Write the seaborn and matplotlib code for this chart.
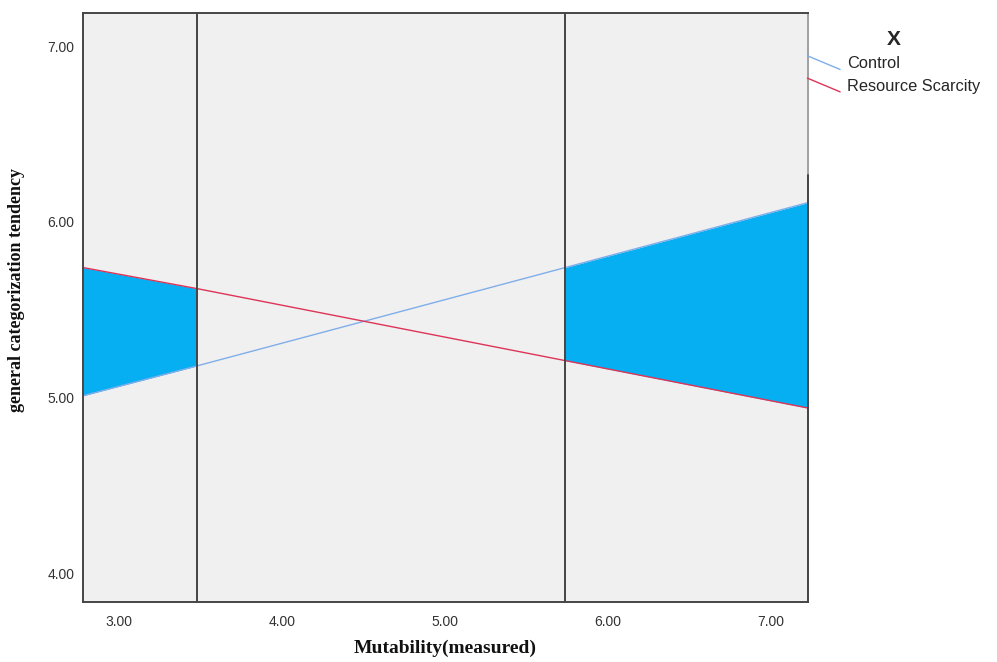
import matplotlib
matplotlib.use("Agg")

import numpy as np
import pandas as pd
import matplotlib.pyplot as plt
from matplotlib.lines import Line2D
from matplotlib.legend_handler import HandlerBase
import seaborn as sns


# values
mutability = [2.78, 3.48, 5.74, 7.23]
control = [5.01, 5.18, 5.74, 6.11]
scarcity = [5.74, 5.62, 5.21, 4.94]
jn_points = [3.48, 5.74]
groups = ["Control", "Resource Scarcity"]
x_ticks = [3.0, 4.0, 5.0, 6.0, 7.0]
y_ticks = [4.0, 5.0, 6.0, 7.0]
x_range = (2.78, 7.23)
y_range = (3.835, 7.19)
dark_edge_top = 6.27

colors = {"Control": "#7FAEEA", "Resource Scarcity": "#DE3457"}
fill_color = "#06AFF2"
frame_color = "#454545"

sns.set_theme(style="white")
plt.rcParams["font.family"] = ["Liberation Sans", "DejaVu Sans"]


class DiagonalHandler(HandlerBase):
    def create_artists(self, legend, orig_handle, xdescent, ydescent,
                       width, height, fontsize, trans):
        line = Line2D([-xdescent, -xdescent + width],
                      [-ydescent + height * 1.1, -ydescent - height * 0.1],
                      color=orig_handle.get_color(), lw=1.0, transform=trans)
        return [line]


df = pd.DataFrame({
    "Mutability": mutability * 2,
    "value": control + scarcity,
    "X": [groups[0]] * len(mutability) + [groups[1]] * len(mutability),
})

fig = plt.figure(figsize=(9.97, 6.62), dpi=100)
ax = fig.add_axes([0.0833, 0.0906, 0.7271, 0.8898])
ax.set_facecolor("#F0F0F0")

x = np.array(mutability)
lo = np.minimum(control, scarcity)
hi = np.maximum(control, scarcity)
ax.fill_between(x, lo, hi, where=x <= jn_points[0], color=fill_color, lw=0, zorder=1)
ax.fill_between(x, lo, hi, where=x >= jn_points[1], color=fill_color, lw=0, zorder=1)

sns.lineplot(data=df, x="Mutability", y="value", hue="X", palette=colors,
             linewidth=1.0, legend=False, ax=ax, zorder=2)

for p in jn_points:
    ax.axvline(p, color=frame_color, lw=1.4, zorder=3)

ax.set_xlim(*x_range)
ax.set_ylim(*y_range)
ax.set_xticks(x_ticks)
ax.set_yticks(y_ticks)
ax.set_xticklabels([f"{v:.2f}" for v in x_ticks])
ax.set_yticklabels([f"{v:.2f}" for v in y_ticks])
ax.tick_params(axis="both", length=0, labelsize=10, labelcolor="#333333")
ax.tick_params(axis="x", pad=9)
ax.tick_params(axis="y", pad=6)

for side, spine in ax.spines.items():
    spine.set_visible(True)
    spine.set_color(frame_color)
    spine.set_linewidth(1.4)
ax.spines["right"].set_color("#A0A0A0")
frac = (dark_edge_top - y_range[0]) / (y_range[1] - y_range[0])
ax.axvline(x_range[1], ymin=0, ymax=frac, color=frame_color, lw=1.4,
           clip_on=False, zorder=4)

ax.set_xlabel("Mutability(measured)", family=["Liberation Serif", "DejaVu Serif"],
              fontweight="bold", fontsize=14, color="#111111")
ax.set_ylabel("general categorization tendency", family=["Liberation Serif", "DejaVu Serif"],
              fontweight="bold", fontsize=13, color="#111111")
ax.xaxis.set_label_coords(0.5, -0.064)
ax.yaxis.set_label_coords(-0.08, 0.53)

handles = [Line2D([], [], color=colors[g]) for g in groups]
leg = fig.legend(handles, groups, title="X", loc="upper left",
                 bbox_to_anchor=(0.795, 0.977), frameon=False,
                 fontsize=11.8, title_fontsize=15, handlelength=2.0,
                 handletextpad=0.4, labelspacing=0.45,
                 handler_map={Line2D: DiagonalHandler()})
leg.get_title().set_fontweight("bold")

fig.savefig("out.png", dpi=100)
